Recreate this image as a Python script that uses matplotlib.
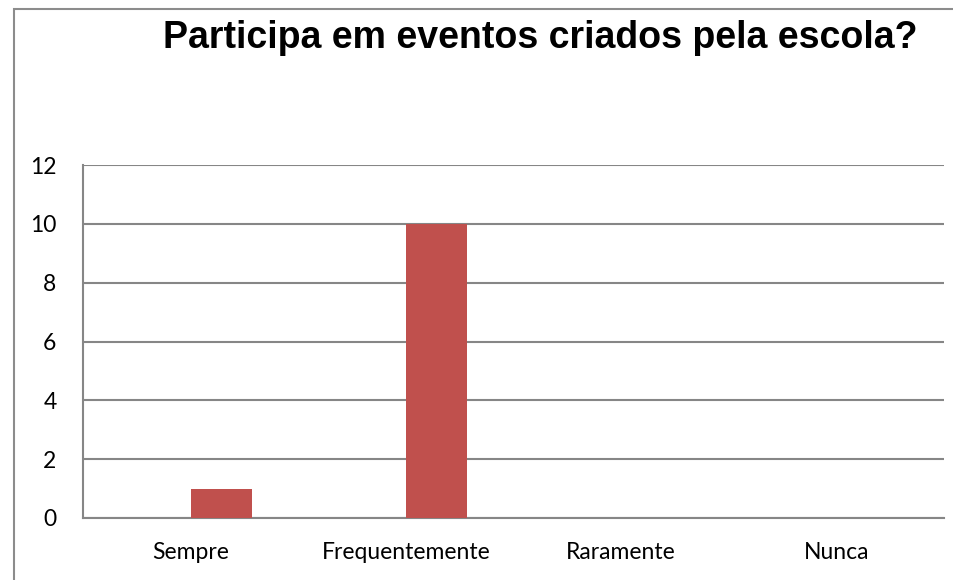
import matplotlib.pyplot as plt
from matplotlib.patches import Rectangle

categories = ['Sempre', 'Frequentemente', 'Raramente', 'Nunca']
values = [1, 10, 0, 0]
y_ticks = [0, 2, 4, 6, 8, 10, 12]

fig = plt.figure(figsize=(9.54, 5.8), dpi=100)
ax = fig.add_axes([0.087, 0.1069, 0.9025, 0.6086])

x = list(range(len(categories)))
# bars sit a little right of the category centre, like the original Excel chart
ax.bar([i + 0.144 for i in x], values, width=0.283, color='#C0504D', zorder=3)

ax.set_xlim(-0.5, len(categories) - 0.5)
ax.set_ylim(0, 12)
ax.set_yticks(y_ticks)
ax.set_xticks(x)
ax.set_xticklabels(categories, family='Lato', fontsize=16.5)
ax.set_yticklabels([str(t) for t in y_ticks], family='Lato', fontsize=16.5)
ax.tick_params(length=0)
ax.tick_params(axis='x', pad=17)
ax.tick_params(axis='y', pad=19)
ax.grid(axis='y', color='#868686', linewidth=1.5, zorder=0)
for s in ['top', 'right']:
    ax.spines[s].set_visible(False)
ax.spines['left'].set_color('#868686')
ax.spines['bottom'].set_color('#868686')
ax.spines['left'].set_linewidth(1.5)
ax.spines['bottom'].set_linewidth(1.5)

fig.text(0.566, 0.934, 'Participa em eventos criados pela escola?',
         family='Liberation Sans', fontweight='bold', fontsize=27,
         ha='center', va='center')

# outer chart frame
fig.patches.append(Rectangle((0.0147, -0.05), 1.2, 1.0345, transform=fig.transFigure,
                             fill=False, edgecolor='#8c8c8c', linewidth=1.5))

plt.savefig('out.png')
plt.close()
